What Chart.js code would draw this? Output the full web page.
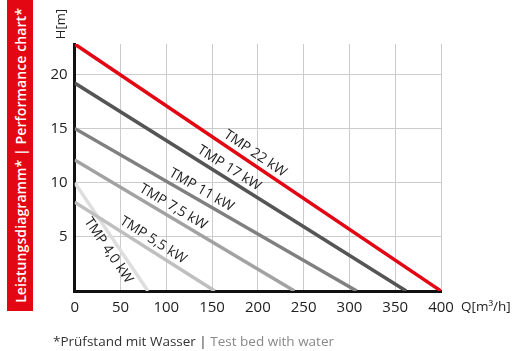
<!DOCTYPE html>
<html>
<head>
<meta charset="utf-8">
<script src="https://cdn.jsdelivr.net/npm/chart.js@4.4.1/dist/chart.umd.min.js"></script>
<style>
  body { margin: 0; background: #fff; font-family: "Open Sans", sans-serif; }
  #wrap { position: relative; width: 513px; height: 351px; }
  #side {
    position: absolute; left: 7px; top: 0; width: 26px; height: 311px;
    background: #e30613; color: #fff;
    display: flex; align-items: center; justify-content: center;
  }
  #side span {
    writing-mode: vertical-rl; transform: rotate(180deg);
    font-size: 14px; font-weight: 600; white-space: nowrap; letter-spacing: 0.1px;
  }
  #hlabel {
    position: absolute; left: 52px; top: 8px; height: 32px; width: 16px;
    display: flex; align-items: center; justify-content: center;
  }
  #hlabel span { writing-mode: vertical-rl; transform: rotate(180deg); font-size: 13px; color: #222; }
  #qlabel { position: absolute; left: 461px; top: 297px; font-size: 13.5px; color: #222; }
  #foot { position: absolute; left: 53px; top: 332px; font-size: 13.5px; color: #333; white-space: nowrap; }
  #foot .en { color: #888; }
</style>
</head>
<body>
<div id="wrap">
  <canvas id="myChart" width="513" height="351"></canvas>
  <div id="side"><span>Leistungsdiagramm* | Performance chart*</span></div>
  <div id="hlabel"><span>H[m]</span></div>
  <div id="qlabel">Q[m³/h]</div>
  <div id="foot">*Prüfstand mit Wasser <span>|</span> <span class="en">Test bed with water</span></div>
</div>
<script>
    // 泵型号
    var pumpNames = ['TMP 22 kW', 'TMP 17 kW', 'TMP 11 kW', 'TMP 7,5 kW', 'TMP 5,5 kW', 'TMP 4,0 kW'];
    // 零流量扬程 H[m]
    var shutoffHead = [22.8, 19.2, 15, 12.1, 8.2, 10];
    // 最大流量 Q[m3/h]
    var maxFlow = [400, 362, 308, 240, 153, 80];
    // 标签所在流量位置
    var labelQ = [191, 163, 133, 102, 80, 46];
    var labelSide = [1, 1, 1, 1, 1, -1];
    var lineColors = ['#e30613', '#555555', '#808080', '#a2a2a2', '#bfbfbf', '#dedede'];

    var xTicks = [0, 50, 100, 150, 200, 250, 300, 350, 400];
    var yTicks = [5, 10, 15, 20];

    var datasets = pumpNames.map(function(name, i) {
        return {
            label: name,
            data: [{x: 0, y: shutoffHead[i]}, {x: maxFlow[i], y: 0}],
            borderColor: lineColors[i],
            borderWidth: 3.5,
            pointRadius: 0,
            fill: false
        };
    });

    // 曲线标签
    var lineLabels = {
        id: 'lineLabels',
        afterDatasetsDraw: function(chart) {
            var ctx = chart.ctx;
            var xs = chart.scales.x, ys = chart.scales.y;
            ctx.save();
            ctx.font = '14px "Open Sans"';
            ctx.fillStyle = '#222';
            ctx.textAlign = 'center';
            ctx.textBaseline = 'middle';
            pumpNames.forEach(function(name, i) {
                var x0 = xs.getPixelForValue(0), y0 = ys.getPixelForValue(shutoffHead[i]);
                var x1 = xs.getPixelForValue(maxFlow[i]), y1 = ys.getPixelForValue(0);
                var ang = Math.atan2(y1 - y0, x1 - x0);
                var q = labelQ[i];
                var h = shutoffHead[i] * (1 - q / maxFlow[i]);
                ctx.save();
                ctx.translate(xs.getPixelForValue(q), ys.getPixelForValue(h));
                ctx.rotate(ang);
                ctx.fillText(name, 0, -10 * labelSide[i]);
                ctx.restore();
            });
            ctx.restore();
        }
    };

    var ctx = document.getElementById('myChart').getContext('2d');
    window.myLine = new Chart(ctx, {
        type: 'line',
        data: { datasets: datasets },
        plugins: [lineLabels],
        options: {
            responsive: false,
            animation: false,
            layout: { padding: { top: 44, right: 72, left: 0, bottom: 0 } },
            plugins: { legend: { display: false }, tooltip: { enabled: false } },
            scales: {
                x: {
                    type: 'linear', min: 0, max: 400,
                    afterFit: function(s) { s.height = 60; },
                    afterBuildTicks: function(s) { s.ticks = xTicks.map(function(v) { return {value: v}; }); },
                    grid: { color: '#cccccc', lineWidth: 1, drawTicks: false },
                    border: { color: '#111', width: 3 },
                    ticks: { padding: 8, color: '#222', font: { family: 'Open Sans', size: 15 } }
                },
                y: {
                    type: 'linear', min: 0, max: 22.8,
                    afterFit: function(s) { s.width = 74.7; },
                    afterBuildTicks: function(s) { s.ticks = yTicks.map(function(v) { return {value: v}; }); },
                    grid: { color: '#cccccc', lineWidth: 1, drawTicks: false },
                    border: { color: '#111', width: 3 },
                    ticks: { padding: 7, color: '#222', font: { family: 'Open Sans', size: 15 } }
                }
            }
        }
    });
</script>
</body>
</html>
